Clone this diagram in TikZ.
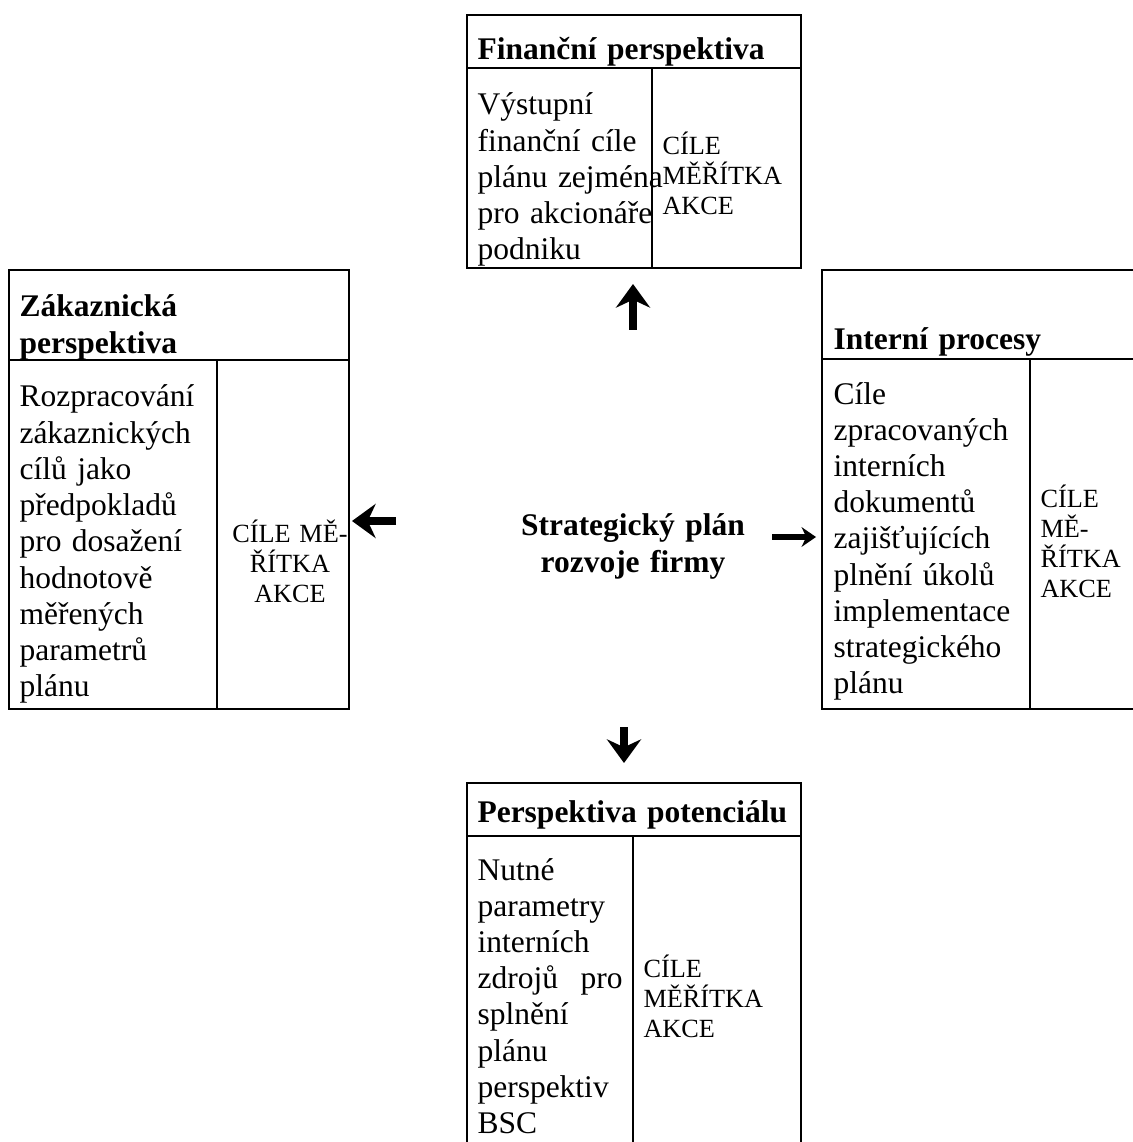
\documentclass[tikz,border=0pt]{standalone}
\usepackage{fontspec}
\setmainfont{Liberation Serif}
\usetikzlibrary{arrows.meta}
\tikzset{
  frame/.style={line width=0.9pt, line cap=rect},
  bodytext/.style={anchor=base west, inner sep=0pt, text width=#1, align=left,
    font=\fontsize{12}{13.8}\selectfont},
  headtext/.style={anchor=base west, inner sep=0pt, text width=#1, align=left,
    font=\bfseries\fontsize{12}{13.8}\selectfont},
  goaltext/.style={inner sep=0pt, text width=#1,
    font=\fontsize{10}{11.43}\selectfont},
  bigarrow/.style={line width=3pt, -{Stealth[length=9pt,width=13pt,inset=3pt]}},
  smallarrow/.style={line width=2pt, -{Stealth[length=5.5pt,width=7.5pt,inset=1.8pt]}},
}
\begin{document}
\begin{tikzpicture}[x=0.381pt, y=-0.381pt]
\useasboundingbox (0,0) rectangle (1132,1142);

% ---------- top box: Financni perspektiva ----------
\coordinate (finNW) at (467,15);
\coordinate (finSE) at (801,268);
\draw[frame] (finNW) rectangle (finSE);
\draw[frame] (467,68) -- (801,68);
\draw[frame] (652,68) -- (652,268);
\node[headtext=120pt] (finhead) at (477,60) {Finanční perspektiva};
\node[bodytext=80pt] (finbody) at (477,115)
  {Výstupní\\finanční cíle\\plánu zejména\\pro akcionáře\\podniku};
\node[goaltext=50pt, anchor=base west, align=left] (fingoal) at (662,155)
  {CÍLE\\MĚŘÍTKA\\AKCE};

% ---------- left box: Zakaznicka perspektiva ----------
\coordinate (zakNW) at (9,270);
\coordinate (zakSE) at (349,709);
\draw[frame] (zakNW) rectangle (zakSE);
\draw[frame] (9,360) -- (349,360);
\draw[frame] (217,360) -- (217,709);
\node[headtext=110pt] (zakhead) at (19,317) {Zákaznická\\perspektiva};
\node[bodytext=75pt] (zakbody) at (19,407)
  {Rozpracování\\zákaznických\\cílů jako\\předpokladů\\pro dosažení\\hodnotově\\měřených\\parametrů\\plánu};
\node[goaltext=48pt, anchor=base, align=center] (zakgoal) at (290,542)
  {CÍLE MĚ-\\ŘÍTKA\\AKCE};

% ---------- right box: Interni procesy ----------
\draw[frame] (1132,270) -- (822,270) -- (822,709) -- (1132,709);
\draw[frame] (822,359) -- (1132,359);
\draw[frame] (1030,359) -- (1030,709);
\node[headtext=110pt] (inthead) at (833,350) {Interní procesy};
\node[bodytext=75pt] (intbody) at (833,404)
  {Cíle\\zpracovaných\\interních\\dokumentů\\zajišťujících\\plnění úkolů\\implementace\\strategického\\plánu};
\node[goaltext=35pt, anchor=base west, align=left] (intgoal) at (1040,507)
  {CÍLE\\MĚ-\\ŘÍTKA\\AKCE};

% ---------- bottom box: Perspektiva potencialu ----------
\draw[frame] (467,1142) -- (467,783) -- (801,783) -- (801,1142);
\draw[frame] (467,836) -- (801,836);
\draw[frame] (633,836) -- (633,1142);
\node[headtext=125pt] (pothead) at (477,822) {Perspektiva potenciálu};
\node[bodytext=55.3pt] (potbody) at (477,880)
  {Nutné\\parametry\\interních\\zdrojů\hfill pro\\splnění\\plánu\\perspektiv\\BSC};
\node[goaltext=55pt, anchor=base west, align=left] (potgoal) at (643,977)
  {CÍLE\\MĚŘÍTKA\\AKCE};

% ---------- centre ----------
\node[anchor=base, inner sep=0pt, text width=110pt, align=center,
      font=\bfseries\fontsize{12}{14.1}\selectfont] (plan) at (633,535)
  {Strategický plán\\rozvoje firmy};

% ---------- arrows ----------
\coordinate (upS) at (633,330);   \coordinate (upE) at (633,284);
\coordinate (lfS) at (396,521);   \coordinate (lfE) at (352,521);
\coordinate (rtS) at (772,537);   \coordinate (rtE) at (816,537);
\coordinate (dnS) at (624,727);   \coordinate (dnE) at (624,763);
\draw[bigarrow] (upS) -- (upE);
\draw[bigarrow] (lfS) -- (lfE);
\draw[smallarrow] (rtS) -- (rtE);
\draw[bigarrow] (dnS) -- (dnE);
\end{tikzpicture}
\end{document}
